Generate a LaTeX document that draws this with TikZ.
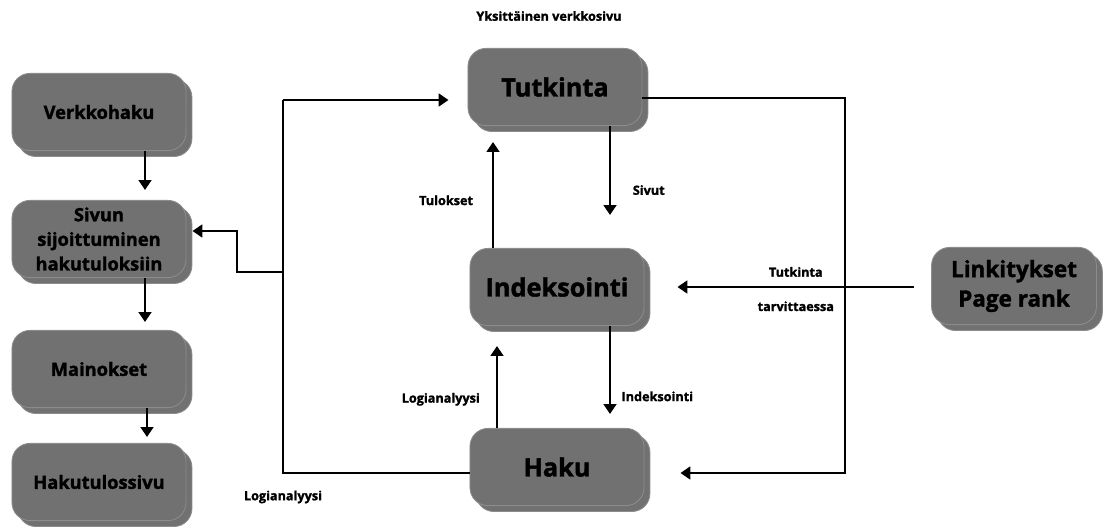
\documentclass[tikz,border=0pt]{standalone}
\usepackage{fontspec}
\setmainfont{Open Sans}[BoldFeatures={FakeBold=1.6}]
\usetikzlibrary{arrows.meta, positioning, calc, shadows}
\definecolor{boxgray}{HTML}{717171}
\definecolor{boxedge}{HTML}{8C8C8C}

\begin{document}
\begin{tikzpicture}[
  x=0.025cm, y=-0.025cm,
  every node/.style={font=\bfseries},
  box/.style={fill=boxgray, draw=boxedge, line width=0.6pt, rounded corners=0.45cm,
    minimum width=4.35cm, minimum height=1.93cm, inner sep=0pt, align=center,
    copy shadow={shadow xshift=4.2pt, shadow yshift=-4.2pt}},
  small/.style={box, font=\bfseries\fontsize{13}{17.5}\selectfont},
  big/.style={box, font=\bfseries\fontsize{18}{22}\selectfont},
  lbl/.style={font=\bfseries\fontsize{9}{11}\selectfont},
  arr/.style={-{Triangle[width=9pt,length=7pt]}, line width=1.8pt},
  line/.style={line width=1.8pt}
]
  \useasboundingbox (0,0) rectangle (1103,526);

  % left column
  \node[small] (verk) at (99,112) {Verkkohaku};
  \node[small] (sivun) at (99,239) {Sivun\\sijoittuminen\\hakutuloksiin};
  \node[small] (mainok) at (99,369) {Mainokset};
  \node[small] (hakut) at (99,482) {Hakutulossivu};

  % middle column
  \node[big] (tutk) at (555,87) {Tutkinta};
  \node[big] (indeks) at (557,287) {Indeksointi};
  \node[big] (haku) at (557,467) {Haku};
  \node[box, minimum width=4.12cm, font=\bfseries\fontsize{16}{21}\selectfont] (linkit) at (1014,286) {Linkitykset\\Page rank};

  \node[lbl] (otsikko) at (549,16) {Yksittäinen verkkosivu};

  % bus on the left
  \coordinate (busT) at (283,100);
  \coordinate (busM) at (283,272);
  \coordinate (busB) at (283,473);
  \coordinate (bend) at (237,272);
  % bus on the right
  \coordinate (busRT) at (845,98);
  \coordinate (busRB) at (845,473);

  \draw[arr] ($(verk.south)+(46,0)$) -- ($(sivun.north)+(46,-10)$);
  \draw[arr] ($(sivun.south)+(46,0)$) -- ($(mainok.north)+(46,-8)$);
  \draw[arr] ($(mainok.south)+(48,0)$) -- ($(hakut.north)+(48,-6)$);

  \draw[line] ($(haku.west)+(0,6)$) -- (busB) -- (busT);
  \draw[arr] (busT) -- ($(tutk.west)+(-19,13)$);
  \draw[arr] (busM) -- (bend) |- ($(sivun.east)+(6,-8)$);
  \node[lbl, below=9pt of busB] (logB) {Logianalyysi};

  \draw[arr] ($(tutk.east)+(0,11)$) -- (busRT) -- (busRB) -- ($(haku.east)+(36,6)$);
  \draw[arr] ($(linkit.west)+(-17,1)$) -- ($(indeks.east)+(33,0)$)
    node[lbl, pos=0.5, above=3pt] (tutkL) {Tutkinta}
    node[lbl, pos=0.5, below=6pt] (tarvL) {tarvittaessa};

  \draw[arr] ($(tutk.south)+(55,0)$) -- ($(indeks.north)+(53,-33)$)
    node[lbl, pos=0.72, right=12pt] (sivutL) {Sivut};
  \draw[arr] ($(indeks.north)+(-64,0)$) -- ($(tutk.south)+(-62,16)$)
    node[lbl, pos=0.45, left=10pt] (tulosL) {Tulokset};
  \draw[arr] ($(indeks.south)+(53,0)$) -- ($(haku.north)+(53,-14)$)
    node[lbl, pos=0.8, right=4pt] (indL) {Indeksointi};
  \draw[arr] ($(haku.north)+(-60,0)$) -- ($(indeks.south)+(-60,20)$)
    node[lbl, pos=0.35, left=8pt] (logL) {Logianalyysi};
\end{tikzpicture}
\end{document}
